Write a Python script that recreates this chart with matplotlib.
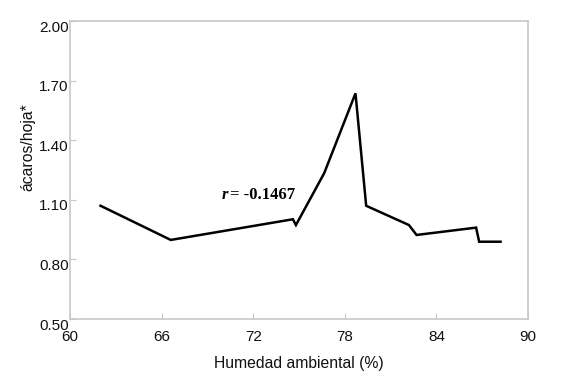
import matplotlib
matplotlib.use("Agg")
import matplotlib.pyplot as plt
import matplotlib.transforms as mtransforms

humedad = [62.0, 66.6, 74.6, 74.8, 76.65, 78.7, 79.4, 82.2, 82.7, 86.6, 86.8, 88.2]
acaros = [1.070, 0.898, 1.002, 0.973, 1.234, 1.636, 1.070, 0.973, 0.923, 0.960, 0.889, 0.889]
xticks = [60, 66, 72, 78, 84, 90]
yticks = [0.50, 0.80, 1.10, 1.40, 1.70, 2.00]

plt.rcParams['font.family'] = ['Liberation Sans', 'DejaVu Sans']

fig = plt.figure(figsize=(5.78, 3.89), dpi=100)
ax = fig.add_axes([70/578, 1-319/389, 458/578, 298/389])
ax.plot(humedad, acaros, color='black', lw=1.8, solid_joinstyle='miter')
ax.set_xlim(60, 90)
ax.set_ylim(0.5, 2.0)
ax.set_xticks(xticks)
ax.set_xticklabels([str(v) for v in xticks])
ax.set_yticks(yticks)
ax.set_yticklabels([f"{v:.2f}" for v in yticks])
for s in ax.spines.values():
    s.set_color('#c8c8c8')
    s.set_linewidth(1.2)
ax.tick_params(direction='in', length=4, color='#c8c8c8', labelsize=11, labelcolor='#111111')
ax.tick_params(axis='y', pad=1)
ax.tick_params(axis='x', pad=8)
off = mtransforms.ScaledTranslation(0, -5/100, fig.dpi_scale_trans)
for lbl in ax.get_yticklabels():
    lbl.set_transform(lbl.get_transform() + off)
ax.set_xlabel('Humedad ambiental (%)', fontsize=11.3, color='#111111')
ax.set_ylabel('ácaros/hoja*', fontsize=11.3, color='#111111')
ax.xaxis.set_label_coords(0.5, -0.125)
ax.yaxis.set_label_coords(-0.075, 0.577)
rt = ax.text(69.95, 1.124, 'r', fontsize=12, fontweight='bold', fontstyle='italic',
             family='Liberation Serif', ha='left', va='center')
ax.annotate('= -0.1467', xy=(1, 0.5), xycoords=rt, xytext=(1.5, 0), textcoords='offset points',
            fontsize=12, fontweight='bold', family='Liberation Serif', ha='left', va='center')
fig.savefig('out.png', dpi=100)
